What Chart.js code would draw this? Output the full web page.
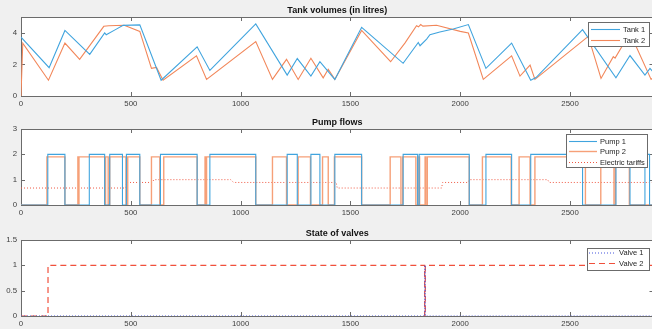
<!DOCTYPE html>
<html>
<head>
<meta charset="utf-8">
<script src="https://cdn.jsdelivr.net/npm/chart.js@4.4.1/dist/chart.umd.min.js"></script>
<style>
  html, body { margin: 0; padding: 0; background: #f0f0f0; overflow: hidden; width: 652px; height: 329px; }
  .panel { position: absolute; left: 0; }
  canvas { display: block; }
</style>
</head>
<body>
<div class="panel" style="top:0px"><canvas id="tankChart" width="670" height="110"></canvas></div>
<div class="panel" style="top:112px"><canvas id="pumpChart" width="670" height="107"></canvas></div>
<div class="panel" style="top:223px"><canvas id="valveChart" width="670" height="107"></canvas></div>
<script>
// time in minutes (2 days)
const xMax = 2880;
const xTicks = [0, 500, 1000, 1500, 2000, 2500];

// tank volumes
const tank1T = [0, 128, 200, 313, 381, 388, 430, 465, 541, 638, 802, 860, 1069, 1212, 1258, 1320, 1361, 1429, 1551, 1740, 1809, 1817, 1847, 1862, 1907, 1968, 2037, 2117, 2234, 2321, 2345, 2557, 2709, 2773, 2841, 2864, 2880];
const tank1V = [3.73, 1.79, 4.15, 2.64, 3.99, 3.88, 4.2, 4.47, 4.5, 1.0, 3.11, 1.62, 4.56, 1.32, 2.37, 1.26, 2.17, 1.05, 4.35, 2.07, 3.39, 3.18, 3.6, 3.88, 4.05, 4.24, 4.52, 1.75, 3.35, 1.0, 1.17, 4.2, 1.15, 2.56, 1.32, 1.75, 1.5];
const tank2T = [0, 8, 125, 200, 267, 377, 400, 470, 541, 594, 617, 647, 799, 845, 1069, 1145, 1209, 1262, 1320, 1376, 1399, 1429, 1551, 1683, 1748, 1801, 1810, 1820, 1830, 1892, 2000, 2037, 2105, 2234, 2272, 2318, 2340, 2583, 2641, 2697, 2705, 2773, 2869, 2880];
const tank2V = [0, 3.35, 1.0, 3.35, 2.32, 4.41, 4.45, 4.48, 4.09, 1.75, 1.81, 1.0, 2.54, 1.05, 3.45, 1.05, 2.32, 1.05, 2.39, 1.15, 1.69, 1.05, 4.15, 2.17, 3.35, 4.45, 4.38, 4.52, 4.42, 4.48, 4.09, 3.99, 1.05, 2.54, 1.26, 1.96, 1.05, 3.77, 1.11, 2.49, 2.4, 3.99, 1.05, 1.2];

// pump flows (value holds from each time until the next)
const pump1T = [0, 122, 200, 311, 381, 404, 462, 480, 541, 635, 802, 860, 1069, 1212, 1258, 1320, 1361, 1429, 1551, 1740, 1806, 1813, 2041, 2117, 2234, 2321, 2557, 2709, 2773, 2841, 2862, 2880];
const pump1V = [0, 2, 0, 2, 0, 2, 0, 2, 0, 2, 0, 2, 0, 2, 0, 2, 0, 2, 0, 2, 0, 2, 0, 2, 0, 2, 0, 2, 0, 2, 0, 0];
const pump2T = [0, 118, 200, 259, 261, 264, 381, 385, 397, 404, 478, 486, 541, 594, 632, 650, 802, 838, 840, 845, 1069, 1145, 1209, 1262, 1318, 1373, 1399, 1427, 1551, 1681, 1730, 1738, 1798, 1808, 1815, 1840, 1843, 1850, 2041, 2101, 2232, 2268, 2318, 2340, 2570, 2640, 2700, 2707, 2770, 2880];
const pump2V = [0, 1.9, 0, 1.9, 0, 1.9, 0, 1.9, 0, 1.9, 0, 1.9, 0, 1.9, 0, 1.9, 0, 1.9, 0, 1.9, 0, 1.9, 0, 1.9, 0, 1.9, 0, 1.9, 0, 1.9, 0, 1.9, 0, 1.9, 0, 1.9, 0, 1.9, 0, 1.9, 0, 1.9, 0, 1.9, 0, 1.9, 0, 1.9, 0, 0];
const tariffT = [0, 477, 480, 598, 605, 955, 968, 1435, 1440, 1915, 1920, 2035, 2042, 2398, 2405, 2880];
const tariffV = [0.67, 0.67, 0.89, 0.89, 1.0, 1.0, 0.89, 0.89, 0.67, 0.67, 0.89, 0.89, 1.0, 1.0, 0.89, 0.89];

// valve states
const valve1T = [0, 1838, 1841, 2880];
const valve1V = [0, 1, 0, 0];
const valve2T = [0, 123, 1838, 1841, 2880];
const valve2V = [0, 1, 0, 1, 1];

const toPoints = (t, v) => t.map((x, i) => ({ x: x, y: v[i] }));

const fontFamily = '"Liberation Sans", Arial, sans-serif';

// white axes box, frame and inward ticks like a matlab figure
const matlabFrame = {
  id: 'matlabFrame',
  beforeDraw(chart) {
    const a = chart.chartArea, ctx = chart.ctx;
    ctx.save();
    ctx.fillStyle = '#ffffff';
    ctx.fillRect(a.left, a.top, a.right - a.left, a.bottom - a.top);
    ctx.restore();
  },
  beforeDatasetsDraw(chart) {
    const a = chart.chartArea, ctx = chart.ctx;
    const len = 4;
    ctx.save();
    ctx.strokeStyle = '#6b6b6b';
    ctx.lineWidth = 1;
    ctx.strokeRect(Math.round(a.left) + 0.5, Math.round(a.top) + 0.5, Math.round(a.right - a.left), Math.round(a.bottom - a.top));
    ctx.beginPath();
    const xs = chart.scales.x, ys = chart.scales.y;
    xs.ticks.forEach(t => {
      const px = Math.round(xs.getPixelForValue(t.value)) + 0.5;
      ctx.moveTo(px, a.bottom); ctx.lineTo(px, a.bottom - len);
      ctx.moveTo(px, a.top); ctx.lineTo(px, a.top + len);
    });
    ys.ticks.forEach(t => {
      const py = Math.round(ys.getPixelForValue(t.value)) + 0.5;
      ctx.moveTo(a.left, py); ctx.lineTo(a.left + len, py);
      ctx.moveTo(a.right, py); ctx.lineTo(a.right - len, py);
    });
    ctx.stroke();
    ctx.restore();
  }
};

// boxed legend drawn inside the axes
const boxLegend = {
  id: 'boxLegend',
  afterDatasetsDraw(chart, args, opts) {
    if (!opts.box) return;
    const ctx = chart.ctx, b = opts.box;
    ctx.save();
    ctx.fillStyle = '#ffffff';
    ctx.fillRect(b.x, b.y, b.w, b.h);
    ctx.strokeStyle = '#6b6b6b';
    ctx.lineWidth = 1;
    ctx.strokeRect(b.x + 0.5, b.y + 0.5, b.w, b.h);
    ctx.font = '7.5px ' + fontFamily;
    ctx.textBaseline = 'middle';
    chart.data.datasets.forEach((ds, i) => {
      const y = b.rows[i];
      ctx.strokeStyle = ds.borderColor;
      ctx.lineWidth = ds.borderWidth;
      ctx.setLineDash(ds.borderDash || []);
      ctx.beginPath();
      ctx.moveTo(b.lineX0, y + 0.5);
      ctx.lineTo(b.lineX1, y + 0.5);
      ctx.stroke();
      ctx.setLineDash([]);
      ctx.fillStyle = '#262626';
      ctx.fillText(ds.label, b.textX, y + 0.5);
    });
    ctx.restore();
  }
};

function makeChart(id, title, datasets, yMax, yStep, legendBox) {
  return new Chart(document.getElementById(id), {
    type: 'line',
    data: { datasets: datasets },
    options: {
      responsive: false,
      animation: false,
      events: [],
      layout: { padding: { left: 0, right: 16.5, top: 0, bottom: 0 } },
      elements: { point: { radius: 0 }, line: { tension: 0 } },
      scales: {
        x: {
          type: 'linear', min: 0, max: xMax,
          grid: { display: false, drawTicks: false },
          border: { display: false },
          afterFit: s => { s.height = 14; },
          afterBuildTicks: s => { s.ticks = xTicks.map(v => ({ value: v })); },
          ticks: {
            padding: 3, maxRotation: 0, autoSkip: false,
            color: '#404040', font: { family: fontFamily, size: 7.8 },
            callback: v => String(v)
          }
        },
        y: {
          min: 0, max: yMax,
          grid: { display: false, drawTicks: false },
          border: { display: false },
          afterFit: s => { s.width = 21; },
          ticks: {
            stepSize: yStep, includeBounds: false, padding: 4,
            color: '#404040', font: { family: fontFamily, size: 7.8 },
            callback: v => String(v)
          }
        }
      },
      plugins: {
        legend: { display: false },
        tooltip: { enabled: false },
        title: {
          display: true, text: title, fullSize: false,
          color: '#111111',
          font: { family: fontFamily, size: 9, weight: 'bold', lineHeight: 1.3333 },
          padding: { top: 5, bottom: 0 }
        },
        boxLegend: { box: legendBox }
      }
    },
    plugins: [matlabFrame, boxLegend]
  });
}

makeChart('tankChart', 'Tank volumes (in litres)', [
  { label: 'Tank 1', data: toPoints(tank1T, tank1V), borderColor: '#40a4de', borderWidth: 1.1 },
  { label: 'Tank 2', data: toPoints(tank2T, tank2V), borderColor: '#f2875a', borderWidth: 1.1 }
], 5, 2, { x: 588, y: 22, w: 61, h: 24, rows: [29, 40], lineX0: 591, lineX1: 620, textX: 623 });

makeChart('pumpChart', 'Pump flows', [
  { label: 'Pump 1', data: toPoints(pump1T, pump1V), borderColor: '#40a4de', borderWidth: 1.1, stepped: true },
  { label: 'Pump 2', data: toPoints(pump2T, pump2V), borderColor: '#f6a078', borderWidth: 1.4, stepped: true },
  { label: 'Electric tariffs', data: toPoints(tariffT, tariffV), borderColor: '#ef5a45', borderWidth: 1, borderDash: [1, 2] }
], 3, 1, { x: 566, y: 22, w: 81, h: 33, rows: [29, 39, 50], lineX0: 569, lineX1: 597, textX: 600 });

makeChart('valveChart', 'State of valves', [
  { label: 'Valve 1', data: toPoints(valve1T, valve1V), borderColor: '#4455dd', borderWidth: 1, borderDash: [1, 2], stepped: true },
  { label: 'Valve 2', data: toPoints(valve2T, valve2V), borderColor: '#f0503c', borderWidth: 1.2, borderDash: [6, 4], stepped: true }
], 1.5, 0.5, { x: 587, y: 25, w: 62, h: 22, rows: [29.5, 40], lineX0: 589, lineX1: 616, textX: 619 });
</script>
</body>
</html>
